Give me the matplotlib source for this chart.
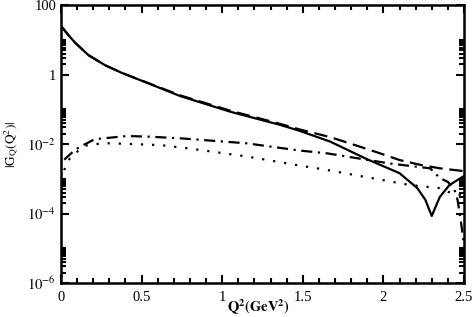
import matplotlib
matplotlib.use("Agg")
import matplotlib.pyplot as plt
from matplotlib.ticker import FixedLocator, FixedFormatter, MultipleLocator

plt.rcParams['font.family'] = 'serif'
plt.rcParams['font.serif'] = ['Liberation Serif', 'DejaVu Serif']
plt.rcParams['mathtext.fontset'] = 'stix'

# Solid curve
q_solid = [0.0, 0.045, 0.087, 0.17, 0.273, 0.377, 0.583, 0.74, 1.05, 1.36, 1.48, 1.67,
           1.90, 2.10, 2.21, 2.26, 2.30, 2.35, 2.41, 2.50]
g_solid = [25.1, 13.8, 8.3, 3.63, 1.86, 1.12, 0.468, 0.240, 0.0851, 0.0355, 0.0240, 0.01175,
           3.63e-3, 1.45e-3, 5.4e-4, 2.5e-4, 8.5e-5, 3.0e-4, 6.6e-4, 1.2e-3]

# Dashed curve
q_dash = [0.0, 0.045, 0.087, 0.17, 0.273, 0.377, 0.583, 0.74, 1.05, 1.36, 1.48, 1.67,
          1.79, 1.95, 2.10, 2.23, 2.35, 2.50]
g_dash = [25.1, 13.8, 8.3, 3.63, 1.86, 1.12, 0.479, 0.251, 0.0912, 0.038, 0.0263, 0.0158,
          0.0105, 6.0e-3, 3.47e-3, 2.51e-3, 2.0e-3, 1.66e-3]

# Dash-dot curve
q_dashdot = [0.02, 0.087, 0.138, 0.21, 0.41, 0.56, 0.75, 1.15, 1.48, 1.65, 2.04, 2.29,
             2.35, 2.40, 2.44, 2.46, 2.48, 2.50]
g_dashdot = [3.55e-3, 6.8e-3, 9.3e-3, 0.0138, 0.0170, 0.0162, 0.0145, 0.0105, 6.5e-3, 5.4e-3,
             2.75e-3, 2.0e-3, 1.05e-3, 8.1e-4, 5.0e-4, 2.5e-4, 6.3e-5, 1.26e-5]

# Dotted curve
q_dot = [0.02, 0.035, 0.056, 0.087, 0.149, 0.21, 0.30, 0.44, 0.62, 0.80, 1.15, 1.48, 1.63,
         2.165, 2.35, 2.40, 2.50]
g_dot = [1.78e-3, 2.75e-3, 3.9e-3, 5.4e-3, 8.9e-3, 0.0100, 0.0105, 0.0100, 9.3e-3, 7.4e-3,
         4.4e-3, 2.4e-3, 1.86e-3, 6.6e-4, 5.4e-4, 4.2e-4, 3.2e-4]

y_ticks = [1e-6, 1e-4, 1e-2, 1, 100]
y_ticklabels = [r'$10^{-6}$', r'$10^{-4}$', r'$10^{-2}$', '1', '100']
x_ticks = [0, 0.5, 1, 1.5, 2, 2.5]
x_ticklabels = ['0', '0.5', '1', '1.5', '2', '2.5']

fig = plt.figure(figsize=(4.75, 3.17), dpi=100)
ax = fig.add_axes([0.1284, 0.1073, 0.8484, 0.8767])

lw = 1.6
ax.plot(q_solid, g_solid, color='black', lw=lw, ls='-')
ax.plot(q_dash, g_dash, color='black', lw=lw, ls=(0, (6, 3)))
ax.plot(q_dashdot, g_dashdot, color='black', lw=lw, ls=(0, (5, 2.5, 1, 2.5)))
ax.plot(q_dot, g_dot, color='black', lw=lw, ls=(0, (1, 4)))

ax.set_yscale('log')
ax.set_xlim(0, 2.5)
ax.set_ylim(1e-6, 100)

ax.yaxis.set_major_locator(FixedLocator(y_ticks))
ax.yaxis.set_major_formatter(FixedFormatter(y_ticklabels))
minors = []
for e in [-6, -4, -2, 0]:
    for k in range(2, 11):
        minors.append(k * 10.0 ** e)
ax.yaxis.set_minor_locator(FixedLocator(minors))
ax.yaxis.set_minor_formatter(FixedFormatter([''] * len(minors)))

ax.xaxis.set_major_locator(FixedLocator(x_ticks))
ax.xaxis.set_major_formatter(FixedFormatter(x_ticklabels))
ax.xaxis.set_minor_locator(MultipleLocator(0.1))

ax.tick_params(which='both', direction='in', top=True, right=True, width=1.5, labelsize=10.5)
ax.tick_params(which='major', length=6)
ax.tick_params(which='minor', length=3.5)
ax.tick_params(axis='x', pad=6)
for s in ax.spines.values():
    s.set_linewidth(1.8)

ax.set_xlabel(r'$\mathbf{Q^2(GeV^2)}$', fontsize=10.5)
ax.xaxis.set_label_coords(0.49, -0.052)
ax.set_ylabel(r'$\mathrm{|G_Q(Q^2)|}$', fontsize=9.5)
ax.yaxis.set_label_coords(-0.1, 0.5)

fig.savefig('out.png', dpi=100)
